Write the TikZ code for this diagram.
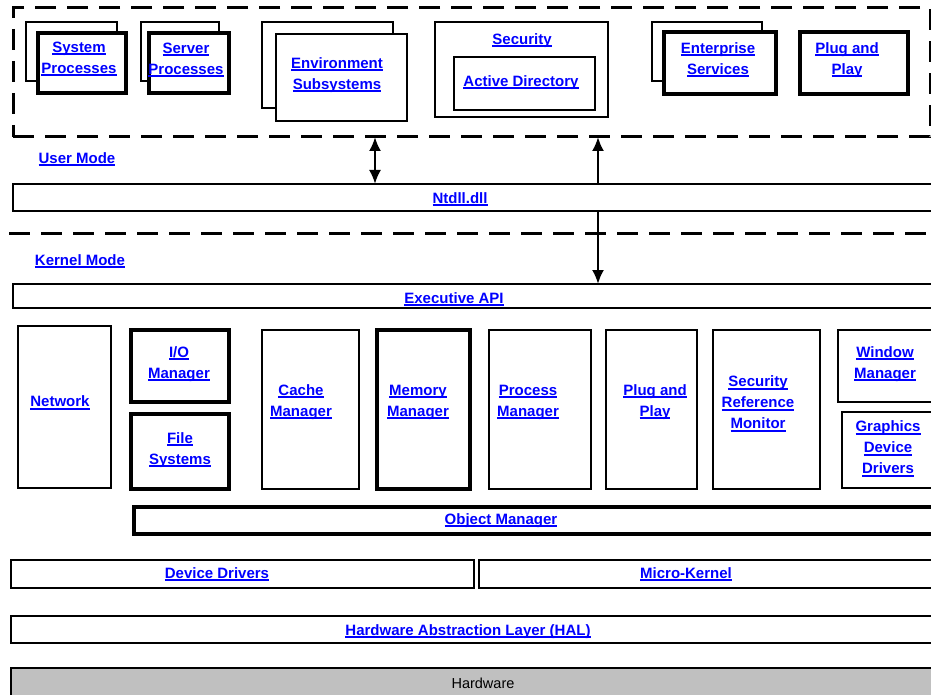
\documentclass[tikz,border=0pt]{standalone}
\usepackage{fontspec}
\setmainfont{Liberation Sans}
\usetikzlibrary{arrows.meta,fit}
\definecolor{linkblue}{RGB}{0,0,255}
\definecolor{hwgray}{RGB}{192,192,192}
\newcommand\ulx[1]{\sbox0{#1}\rlap{\rule[-3pt]{\wd0}{2pt}}\usebox0}
\tikzset{
  box/.style={draw=black, line width=2.8pt, fill=white, inner sep=0pt, outer sep=0pt},
  thinbox/.style={box, line width=2.2pt},
  thickbox/.style={box, line width=3.6pt},
  lbl/.style={text=linkblue, font=\fontsize{15}{21}\selectfont\bfseries, align=center, inner sep=0pt},
  hwlbl/.style={text=black, font=\fontsize{14.5}{21}\selectfont, inner sep=0pt},
  modedash/.style={draw=black, line width=3pt, dash pattern=on 21pt off 11pt},
  tip/.tip={Latex[length=14pt,width=12pt]},
  conn/.style={line width=2.2pt, draw=black},
}
\begin{document}
\begin{tikzpicture}[x=1pt,y=-1pt]
\useasboundingbox (0,0) rectangle (931,695);
\fill[white] (0,0) rectangle (931,695);
\clip (0,0) rectangle (931,695);

% ---- user mode region ----
\node[modedash, inner sep=0pt, outer sep=0pt, fit={(13,8)(930,137)}] (user) {};

\node[box, fit={(26,22)(117,81)}] (sysB) {};
\node[thickbox, fit={(38,33)(126,93)}] (sysF) {};
\node[box, fit={(141,22)(219,81)}] (srvB) {};
\node[thickbox, fit={(149,33)(229,93)}] (srvF) {};
\node[box, fit={(262,22)(393,108)}] (envB) {};
\node[box, fit={(276,34)(407,121)}] (envF) {};
\node[box, fit={(435,22)(608,117)}] (sec) {};
\node[box, fit={(454,57)(595,110)}] (ad) {};
\node[box, fit={(652,22)(762,81)}] (entB) {};
\node[thickbox, fit={(664,32)(776,94)}] (entF) {};
\node[thickbox, fit={(800,32)(908,94)}] (pnpU) {};

\node[lbl] (tsys) at (79,59) {\ulx{System}\\\ulx{Processes}};
\node[lbl] (tsrv) at (186,60) {\ulx{Server}\\\ulx{Processes}};
\node[lbl] (tenv) at (337,75) {\ulx{Environment}\\\ulx{Subsystems}};
\node[lbl] (tsec) at (522,40.5) {\ulx{Security}};
\node[lbl] (tad) at (521,82.5) {\ulx{Active Directory}};
\node[lbl] (tent) at (718,60) {\ulx{Enterprise}\\\ulx{Services}};
\node[lbl] (tpnpU) at (847,60) {\ulx{Plug and}\\\ulx{Play}};

\node[lbl] (tuser) at (77,159.5) {\ulx{User Mode}};

% ---- Ntdll ----
\node[thinbox, fit={(13,184)(945,211)}] (ntdll) {};
\node[lbl] (tntdll) at (460,199.5) {\ulx{Ntdll.dll}};

% ---- kernel mode ----
\draw[modedash] (9,233) coordinate (k1) -- (945,233) coordinate (k2);
\node[lbl] (tkernel) at (80,261.5) {\ulx{Kernel Mode}};

\node[box, fit={(13,284)(945,308)}] (exec) {};
\node[lbl] (texec) at (454,299.5) {\ulx{Executive API}};

\node[box, fit={(18,326)(111,488)}] (net) {};
\node[thickbox, fit={(131,330)(229,402)}] (io) {};
\node[thickbox, fit={(131,414)(229,489)}] (fs) {};
\node[box, fit={(262,330)(359,489)}] (cache) {};
\node[thickbox, fit={(377,330)(470,489)}] (mem) {};
\node[box, fit={(489,330)(591,489)}] (proc) {};
\node[box, fit={(606,330)(697,489)}] (pnpK) {};
\node[box, fit={(713,330)(820,489)}] (srm) {};
\node[box, fit={(838,330)(945,402)}] (win) {};
\node[box, fit={(842,412)(945,488)}] (gdd) {};
\node[thickbox, fit={(134,507)(945,534)}] (objm) {};

\node[lbl] (tnet) at (60,403) {\ulx{Network}};
\node[lbl] (tio) at (179,364) {\ulx{I/O}\\\ulx{Manager}};
\node[lbl] (tfs) at (180,450) {\ulx{File}\\\ulx{Systems}};
\node[lbl] (tcache) at (301,402) {\ulx{Cache}\\\ulx{Manager}};
\node[lbl] (tmem) at (418,402) {\ulx{Memory}\\\ulx{Manager}};
\node[lbl] (tproc) at (528,402) {\ulx{Process}\\\ulx{Manager}};
\node[lbl] (tpnpK) at (655,402) {\ulx{Plug and}\\\ulx{Play}};
\node[lbl] (tsrm) at (758,404) {\ulx{Security}\\\ulx{Reference}\\\ulx{Monitor}};
\node[lbl] (twin) at (885,364) {\ulx{Window}\\\ulx{Manager}};
\node[lbl] (tgdd) at (888,449) {\ulx{Graphics}\\\ulx{Device}\\\ulx{Drivers}};
\node[lbl] (tobjm) at (501,520.5) {\ulx{Object Manager}};

% ---- lower layers ----
\node[box, fit={(11,560)(474,588)}] (dd) {};
\node[box, fit={(479,560)(945,588)}] (mk) {};
\node[box, fit={(11,616)(945,643)}] (hal) {};
\node[box, fill=hwgray, line width=1.8pt, fit={(11,668)(945,705)}] (hw) {};

\node[lbl] (tdd) at (217,574.5) {\ulx{Device Drivers}};
\node[lbl] (tmk) at (686,574.5) {\ulx{Micro-Kernel}};
\node[lbl] (thal) at (468,631.5) {\ulx{Hardware Abstraction Layer (HAL)}};
\node[hwlbl] (thw) at (483,683) {Hardware};

% ---- connectors ----
\coordinate (a1) at (375,137);
\coordinate (a2) at (598,137);
\draw[conn, tip-tip] (a1) -- (ntdll.north -| a1);
\draw[conn, -tip] (ntdll.north -| a2) -- (a2);
\draw[conn, -tip] (ntdll.south -| a2) -- (exec.north -| a2);
\end{tikzpicture}
\end{document}
